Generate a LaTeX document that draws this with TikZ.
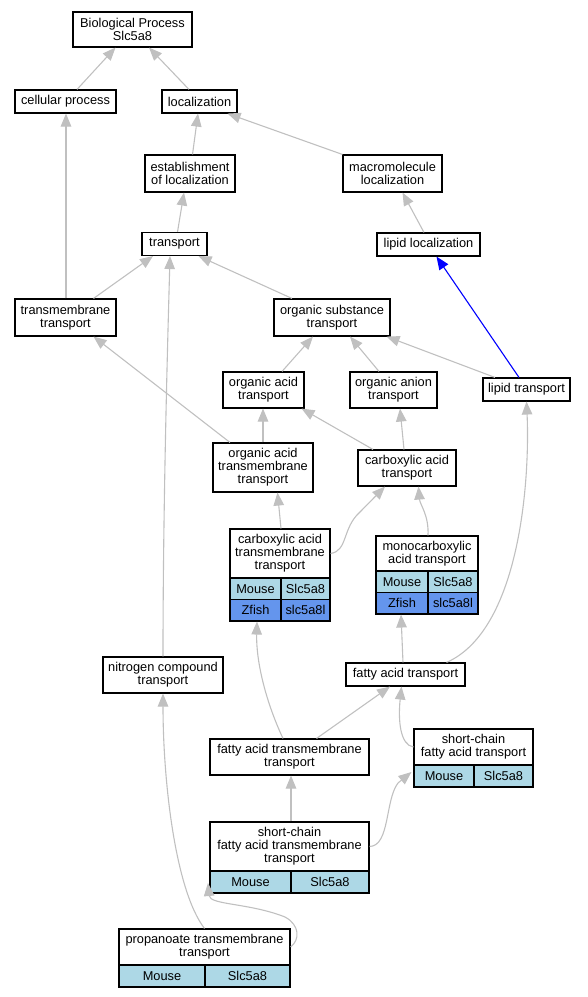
\documentclass[tikz,border=0pt]{standalone}
\usepackage{fontspec}
\setmainfont{Liberation Sans}
\usetikzlibrary{arrows.meta}
\definecolor{egray}{RGB}{192,192,192}
\definecolor{mouseblue}{RGB}{173,216,230}
\definecolor{zfishblue}{RGB}{100,149,237}
\begin{document}
\begin{tikzpicture}[x=1pt,y=-1pt,
  gbox/.style={draw=black, line width=1.1pt, fill=white, inner sep=0pt, align=center, font=\fontsize{12.8}{13}\selectfont},
  mcell/.style={gbox, fill=mouseblue},
  zcell/.style={gbox, fill=zfishblue},
  gedge/.style={draw=egray, line width=1.1pt, -{Triangle[length=13pt,width=10.5pt]}},
  bedge/.style={draw=blue, line width=1.1pt, -{Triangle[length=13pt,width=10.5pt]}}]
\useasboundingbox (0,0) rectangle (587,997);
% plain boxes
\node[gbox, minimum width=119pt, minimum height=35pt] (bp) at (132.5,29.5) {Biological Process\\Slc5a8};
\node[gbox, minimum width=101pt, minimum height=23pt] (cp) at (65.5,101.5) {cellular process};
\node[gbox, minimum width=75pt, minimum height=23pt] (loc) at (199.5,101.5) {localization};
\node[gbox, minimum width=90pt, minimum height=37pt] (est) at (190,173.5) {establishment\\of localization};
\node[gbox, minimum width=99pt, minimum height=37pt] (macro) at (392.5,173.5) {macromolecule\\localization};
\node[gbox, minimum width=65pt, minimum height=23pt] (tr) at (174.5,244) {transport};
\node[gbox, minimum width=103pt, minimum height=23pt] (lipidloc) at (428.5,244.5) {lipid localization};
\node[gbox, minimum width=101pt, minimum height=37pt] (tm) at (65.5,317.5) {transmembrane\\transport};
\node[gbox, minimum width=116pt, minimum height=37pt] (ost) at (332,317.5) {organic substance\\transport};
\node[gbox, minimum width=81pt, minimum height=36pt] (oat) at (263.5,390) {organic acid\\transport};
\node[gbox, minimum width=87pt, minimum height=36pt] (oant) at (393.5,390) {organic anion\\transport};
\node[gbox, minimum width=87pt, minimum height=23pt] (lt) at (526.5,389.5) {lipid transport};
\node[gbox, minimum width=100pt, minimum height=49pt] (oatm) at (263,467.5) {organic acid\\transmembrane\\transport};
\node[gbox, minimum width=98pt, minimum height=36pt] (cat) at (407,468) {carboxylic acid\\transport};
\node[gbox, minimum width=120pt, minimum height=36pt] (nc) at (163,675) {nitrogen compound\\transport};
\node[gbox, minimum width=119pt, minimum height=23pt] (fat) at (405.5,674.5) {fatty acid transport};
\node[gbox, minimum width=159pt, minimum height=36pt] (fatm) at (289.5,757) {fatty acid transmembrane\\transport};
% tables
\node[gbox, minimum width=100pt, minimum height=49pt] (catmh) at (280,553.5) {carboxylic acid\\transmembrane\\transport};
\node[mcell, minimum width=51pt, minimum height=21.5pt] (catmM) at (255.5,588.75) {Mouse};
\node[mcell, minimum width=49pt, minimum height=21.5pt] (catmS) at (305.5,588.75) {Slc5a8};
\node[zcell, minimum width=51pt, minimum height=21.5pt] (catmZ) at (255.5,610.25) {Zfish};
\node[zcell, minimum width=49pt, minimum height=21.5pt] (catmZs) at (305.5,610.25) {slc5a8l};
\node[gbox, minimum width=102pt, minimum height=35pt] (monoh) at (427,553.5) {monocarboxylic\\acid transport};
\node[mcell, minimum width=52pt, minimum height=21.5pt] (monoM) at (402,581.75) {Mouse};
\node[mcell, minimum width=50pt, minimum height=21.5pt] (monoS) at (453,581.75) {Slc5a8};
\node[zcell, minimum width=52pt, minimum height=21.5pt] (monoZ) at (402,603.25) {Zfish};
\node[zcell, minimum width=50pt, minimum height=21.5pt] (monoZs) at (453,603.25) {slc5a8l};
\node[gbox, minimum width=119pt, minimum height=36pt] (scfath) at (473.5,747) {short-chain\\fatty acid transport};
\node[mcell, minimum width=60pt, minimum height=22pt] (scfatM) at (444,776) {Mouse};
\node[mcell, minimum width=59pt, minimum height=22pt] (scfatS) at (503.5,776) {Slc5a8};
\node[gbox, minimum width=159pt, minimum height=49pt] (scfatmh) at (289.5,846.5) {short-chain\\fatty acid transmembrane\\transport};
\node[mcell, minimum width=81pt, minimum height=22pt] (scfatmM) at (250.5,882) {Mouse};
\node[mcell, minimum width=78pt, minimum height=22pt] (scfatmS) at (330,882) {Slc5a8};
\node[gbox, minimum width=171pt, minimum height=36pt] (proph) at (204.5,947) {propanoate transmembrane\\transport};
\node[mcell, minimum width=86pt, minimum height=22pt] (propM) at (162,976) {Mouse};
\node[mcell, minimum width=85pt, minimum height=22pt] (propS) at (247.5,976) {Slc5a8};
% edges
\draw[gedge] ([xshift=11.5pt]cp.north) -- ([xshift=-17pt]bp.south);
\draw[gedge] ([xshift=-10.5pt]loc.north) -- ([xshift=16.5pt]bp.south);
\draw[gedge] ([xshift=2.5pt]est.north) -- ([xshift=-1.5pt]loc.south);
\draw[gedge] (macro.north west) -- ([xshift=-10pt]loc.south east);
\draw[gedge] ([xshift=3pt]tr.north) -- ([xshift=-6pt]est.south);
\draw[gedge] ([xshift=-4.5pt]lipidloc.north) -- ([xshift=10pt]macro.south);
\draw[gedge] ([xshift=0.5pt]tm.north) -- ([xshift=0.5pt]cp.south);
\draw[gedge] ([xshift=28pt]tm.north) -- ([xshift=-21.5pt]tr.south);
\draw[gedge] ([xshift=-40pt]ost.north) -- ([xshift=-9pt]tr.south east);
\draw[gedge] (nc.north) .. controls (163,500) and (168,330) .. ([xshift=-4.5pt]tr.south);
\draw[bedge] ([xshift=-7.5pt]lt.north) -- ([xshift=8pt]lipidloc.south);
\draw[gedge] ([xshift=-31.5pt]lt.north) -- ([xshift=-4pt]ost.south east);
\draw[gedge] ([xshift=18.5pt]oat.north) -- ([xshift=-19pt]ost.south);
\draw[gedge] ([xshift=-14.5pt]oant.north) -- ([xshift=18pt]ost.south);
\draw[gedge] ([xshift=-33pt]oatm.north) -- ([xshift=28pt]tm.south);
\draw[gedge] (oatm.north) -- ([xshift=-0.5pt]oat.south);
\draw[gedge] ([xshift=-34pt]cat.north) -- ([xshift=-3pt]oat.south east);
\draw[gedge] ([xshift=-3pt]cat.north) -- ([xshift=6.5pt]oant.south);
\draw[gedge] ([xshift=1pt]catmh.north) -- ([xshift=14.5pt]oatm.south);
\draw[gedge] (catmh.east) .. controls (348,551) and (342,528) .. (360,512) -- ([xshift=-22pt]cat.south);
\draw[gedge] ([xshift=1pt]monoh.north) .. controls (429,515) and (420,505) .. ([xshift=11.5pt]cat.south);
\draw[gedge] ([xshift=-2.5pt]fat.north) -- ([xshift=-1pt]monoZ.south);
\draw[gedge] ([xshift=41pt]fat.north) .. controls (520,630) and (530,480) .. (lt.south);
\draw[gedge] ([xshift=-6.5pt]fatm.north) .. controls (265,700) and (256,660) .. ([xshift=1.5pt]catmZ.south);
\draw[gedge] ([xshift=27pt]fatm.north) -- ([xshift=-15.5pt]fat.south);
\draw[gedge] (scfath.west) .. controls (400,745) and (398,720) .. ([xshift=-4pt]fat.south);
\draw[gedge] ([xshift=1.5pt]scfatmh.north) -- ([xshift=1.5pt]fatm.south);
\draw[gedge] (scfatmh.east) .. controls (390,846) and (385,800) .. (398,783) -- ([xshift=-2pt,yshift=4pt]scfatM.west);
\draw[gedge] (proph.north) .. controls (175,890) and (163,780) .. (nc.south);
\draw[gedge] (proph.east) .. controls (300,940) and (300,925) .. (285,917) .. controls (250,903) and (210,905) .. ([xshift=-1.5pt,yshift=-1pt]scfatmM.west);
\end{tikzpicture}
\end{document}
